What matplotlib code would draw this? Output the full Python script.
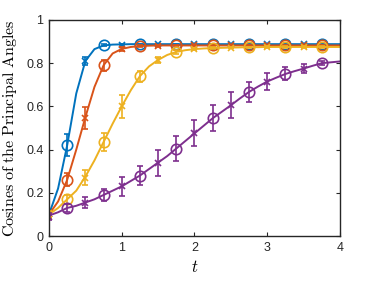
import numpy as np
import matplotlib
matplotlib.use('Agg')
import matplotlib.pyplot as plt

plt.rcParams['mathtext.fontset'] = 'cm'
plt.rcParams['font.family'] = 'Liberation Sans'

# sample times (markers) and fitted-curve times
t_pts = [0, 0.25, 0.5, 0.75, 1.0, 1.25, 1.5, 1.75, 2.0, 2.25, 2.5, 2.75, 3.0, 3.25, 3.5, 3.75]
t_fit = [i * 0.125 for i in range(33)]

blue_pts = [0.10, 0.42, 0.81, 0.885, 0.886, 0.887, 0.887, 0.888, 0.888, 0.888, 0.888, 0.888, 0.888, 0.888, 0.888, 0.888]
blue_err = [0.015, 0.05, 0.02, 0.006, 0.004, 0.004, 0.003, 0.003, 0.003, 0.003, 0.003, 0.003, 0.003, 0.003, 0.003, 0.003]
red_pts = [0.10, 0.26, 0.545, 0.79, 0.866, 0.879, 0.881, 0.882, 0.882, 0.882, 0.882, 0.882, 0.882, 0.882, 0.882, 0.882]
red_err = [0.015, 0.03, 0.05, 0.025, 0.008, 0.005, 0.004, 0.003, 0.003, 0.003, 0.003, 0.003, 0.003, 0.003, 0.003, 0.003]
yellow_pts = [0.10, 0.17, 0.27, 0.435, 0.60, 0.74, 0.815, 0.852, 0.865, 0.87, 0.872, 0.873, 0.874, 0.874, 0.875, 0.875]
yellow_err = [0.015, 0.02, 0.035, 0.04, 0.055, 0.025, 0.015, 0.01, 0.006, 0.005, 0.004, 0.004, 0.004, 0.004, 0.004, 0.004]
purple_pts = [0.09, 0.13, 0.155, 0.19, 0.23, 0.28, 0.34, 0.405, 0.475, 0.545, 0.605, 0.667, 0.715, 0.75, 0.775, 0.80]
purple_err = [0.015, 0.02, 0.025, 0.03, 0.045, 0.045, 0.06, 0.06, 0.06, 0.06, 0.06, 0.045, 0.04, 0.03, 0.02, 0.01]

blue_fit = [0.10, 0.22, 0.42, 0.66, 0.81, 0.865, 0.882, 0.886, 0.887] + [0.888] * 24
red_fit = [0.10, 0.16, 0.26, 0.40, 0.55, 0.69, 0.79, 0.845, 0.866, 0.875, 0.879, 0.881] + [0.882] * 21
yellow_fit = [0.10, 0.13, 0.17, 0.21, 0.275, 0.35, 0.435, 0.52, 0.60, 0.675, 0.74, 0.785, 0.815,
              0.838, 0.852, 0.86, 0.865, 0.868, 0.87, 0.871, 0.872, 0.873, 0.874, 0.874] + [0.875] * 9
purple_fit = [0.095, 0.11, 0.13, 0.14, 0.155, 0.17, 0.19, 0.21, 0.23, 0.255, 0.28, 0.31, 0.34,
              0.37, 0.405, 0.44, 0.475, 0.51, 0.545, 0.575, 0.605, 0.637, 0.667, 0.692, 0.715,
              0.733, 0.75, 0.763, 0.775, 0.788, 0.80, 0.804, 0.808]

series = [
    (blue_pts, blue_err, blue_fit, '#0072BD'),
    (red_pts, red_err, red_fit, '#D95319'),
    (yellow_pts, yellow_err, yellow_fit, '#EDB120'),
    (purple_pts, purple_err, purple_fit, '#7E2F8E'),
]

fig = plt.figure(figsize=(3.74, 2.81), dpi=100)
ax = fig.add_axes([0.131, 0.160, 0.778, 0.769])

t_pts = np.array(t_pts)
for pts, err, fit, col in series:
    pts = np.array(pts)
    err = np.array(err)
    ax.plot(t_fit, fit, color=col, lw=1.4)
    ax.errorbar(t_pts, pts, yerr=err, fmt='none', ecolor=col, elinewidth=1.2, capsize=2.5, capthick=1.2)
    ax.plot(t_pts[1::2], pts[1::2], 'o', mfc='none', mec=col, ms=7.5, mew=1.2)
    ax.plot(t_pts[0::2], pts[0::2], 'x', color=col, ms=4.5, mew=1.2)

ax.set_xlim(0, 4)
ax.set_ylim(0, 1)
ax.set_xticks([0, 1, 2, 3, 4])
ax.set_yticks([0, 0.2, 0.4, 0.6, 0.8, 1])
ax.set_yticklabels(['0', '0.2', '0.4', '0.6', '0.8', '1'])
ax.tick_params(direction='in', top=True, right=True, labelsize=9, length=3,
               color='#262626', labelcolor='#262626', pad=4)
for s in ax.spines.values():
    s.set_color('#262626')
    s.set_linewidth(1.0)

ax.set_xlabel(r'$t$', fontsize=12, labelpad=4)
ax.set_ylabel(r'$\mathrm{Cosines\ of\ the\ Principal\ Angles}$', fontsize=11.5, labelpad=5)

fig.savefig('out.png', dpi=100)
